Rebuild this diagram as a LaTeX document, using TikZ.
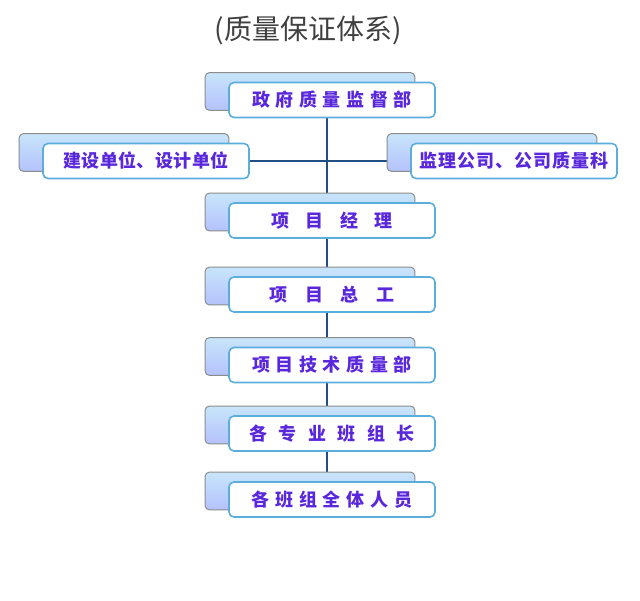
\documentclass[tikz,border=0pt]{standalone}
\usepackage{fontspec}
\newfontfamily\cjk{Noto Sans CJK SC}
\usetikzlibrary{calc}
\definecolor{linkblue}{HTML}{1F4F85}
\definecolor{labelviolet}{HTML}{5A28DC}
\definecolor{frameblue}{HTML}{5AAEDC}
\definecolor{shadeblue}{HTML}{C8E5FA}
\definecolor{shadelilac}{HTML}{D2C8F4}
\definecolor{titlegray}{HTML}{404040}

\pgfdeclarelayer{links}
\pgfdeclarelayer{back}
\pgfsetlayers{links,back,main}

\begin{document}
\begin{tikzpicture}[x=1pt,y=-1pt,
  unit/.style={draw=frameblue,line width=1.6pt,fill=white,rounded corners=5pt,
    minimum width=206pt,minimum height=35pt,inner sep=0pt,text=labelviolet,
    font=\cjk\bfseries\fontsize{18}{22}\selectfont\addfontfeature{LetterSpace=#1}},
  unit/.default=0,
  backbox/.style={draw=black!45,line width=1pt,rounded corners=4pt,
    top color=shadeblue,middle color=shadelilac!90!shadeblue,bottom color=shadeblue!70!blue!65},
  link/.style={draw=linkblue,line width=1.4pt}
]
\useasboundingbox (0,0) rectangle (640,600);

\node[font=\cjk\fontsize{28}{32}\selectfont,text=titlegray] (title) at (308,31) {(质量保证体系)};

% main chain
\node[unit=31] (gov) at (332,100) {政府质量监督部};
\node[unit=2] (build) at (146,161) {建设单位、设计单位};
\node[unit=6] (super) at (514,161) {监理公司、公司质量科};
\node[unit=92] (pm) at (332,220.5) {项目经理};
\node[unit=98] (chief) at (332,294.5) {项目总工};
\node[unit=31] (tech) at (332,365) {项目技术质量部};
\node[unit=63] (leader) at (332,433.5) {各专业班组长};
\node[unit=32] (staff) at (332,499.5) {各班组全体人员};

% shadow boxes behind
\begin{pgfonlayer}{back}
\foreach \n in {gov,build,super,pm,chief,tech,leader,staff}
  \path[backbox] ($(\n.north west)+(-23,-9)$) rectangle ($(\n.south east)+(-21,-8)$);
\end{pgfonlayer}

% links
\coordinate (trunk) at (327,0);
\begin{pgfonlayer}{links}
\draw[link] (gov.south -| trunk) -- (pm.north -| trunk);
\draw[link] (build.east) -- (super.west);
\draw[link] (pm.south -| trunk) -- (chief.north -| trunk);
\draw[link] (chief.south -| trunk) -- (tech.north -| trunk);
\draw[link] (tech.south -| trunk) -- (leader.north -| trunk);
\draw[link] (leader.south -| trunk) -- (staff.north -| trunk);
\end{pgfonlayer}
\end{tikzpicture}
\end{document}
